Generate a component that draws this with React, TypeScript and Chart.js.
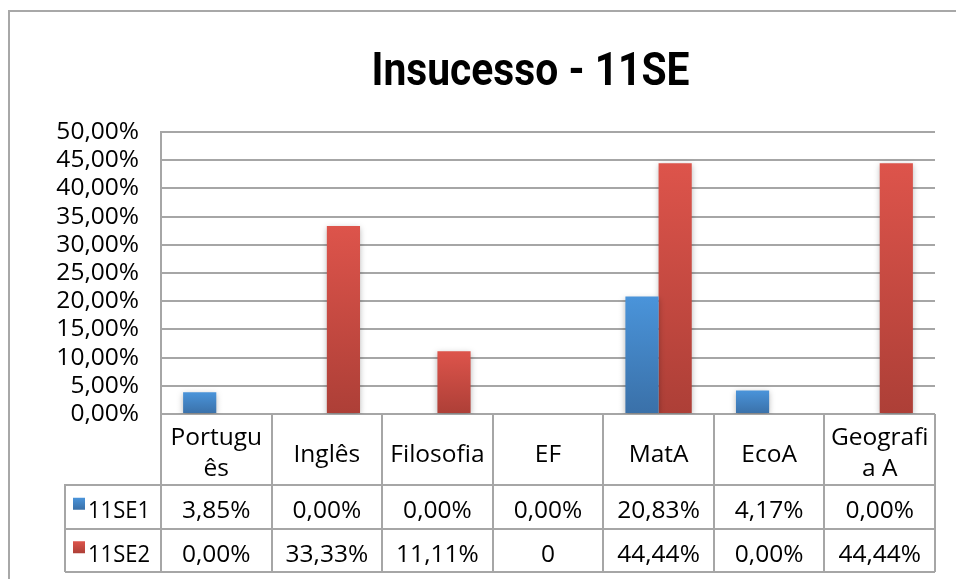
import React, { useEffect, useRef } from "react";
import { Chart, registerables } from "chart.js";

Chart.register(...registerables);

// ---- data ----
const chartTitle = "Insucesso - 11SE";
const categories: string[][] = [
  ["Portugu", "ês"],
  ["Inglês"],
  ["Filosofia"],
  ["EF"],
  ["MatA"],
  ["EcoA"],
  ["Geografi", "a A"],
];
const seriesNames = ["11SE1", "11SE2"];
const series1 = [3.85, 0, 0, 0, 20.83, 4.17, 0];
const series2 = [0, 33.33, 11.11, 0, 44.44, 0, 44.44];
const series1Table = ["3,85%", "0,00%", "0,00%", "0,00%", "20,83%", "4,17%", "0,00%"];
const series2Table = ["0,00%", "33,33%", "11,11%", "0", "44,44%", "0,00%", "44,44%"];
const yMin = 0;
const yMax = 50;
const yStep = 5;

// ---- styles ----
const FONT = "'Open Sans', 'Noto Sans', sans-serif";
const FONT_SIZE = 24.5;
const TITLE_FONT = "Roboto, 'Open Sans', sans-serif";
const GRID = "#a6a6a6";
const BLUE = ["#4a94da", "#3a70a8"];
const RED = ["#dd544b", "#ad3f37"];
const seriesColors = [BLUE, RED];

function fmtTick(v: number) {
  return v.toFixed(2).replace(".", ",") + "%";
}

function barFill(colors: string[]) {
  return (c: any) => {
    const chart = c.chart;
    const y = chart.scales?.y;
    if (!chart.chartArea || !y || typeof c.raw !== "number") return colors[0];
    const top = y.getPixelForValue(c.raw);
    const bottom = y.getPixelForValue(0);
    if (Math.abs(bottom - top) < 1) return colors[0];
    const g = chart.ctx.createLinearGradient(0, top, 0, bottom);
    g.addColorStop(0, colors[0]);
    g.addColorStop(1, colors[1]);
    return g;
  };
}

const framePlugin = {
  id: "frameAndTitle",
  beforeDraw(chart: any) {
    const ctx = chart.ctx;
    ctx.save();
    ctx.fillStyle = "#ffffff";
    ctx.fillRect(0, 0, chart.width, chart.height);
    ctx.strokeStyle = "#a8a8a8";
    ctx.lineWidth = 2;
    ctx.strokeRect(9, 11, 2000, 2000);
    // title
    ctx.font = `bold 46px ${TITLE_FONT}`;
    ctx.fillStyle = "#000000";
    ctx.textBaseline = "alphabetic";
    ctx.textAlign = "center";
    const w = ctx.measureText(chartTitle).width;
    const targetW = 318;
    ctx.translate(530.5, 85);
    ctx.scale(targetW / w, 1);
    ctx.fillText(chartTitle, 0, 0);
    ctx.restore();
  },
};

const shadowPlugin = {
  id: "barShadow",
  beforeDatasetsDraw(chart: any) {
    const ctx = chart.ctx;
    ctx.save();
    ctx.shadowColor = "rgba(0,0,0,0.28)";
    ctx.shadowBlur = 6;
    ctx.shadowOffsetX = 0;
    ctx.shadowOffsetY = 2;
  },
  afterDatasetsDraw(chart: any) {
    chart.ctx.restore();
  },
};

const tablePlugin = {
  id: "dataTable",
  afterDraw(chart: any) {
    const ctx = chart.ctx;
    const a = chart.chartArea;
    const x = chart.scales.x;
    const n = categories.length;
    const colW = (a.right - a.left) / n;
    const headerTop = a.bottom;
    const headerBottom = a.bottom + 71;
    const rowH = 43.5;
    const rowBottoms = [headerBottom + rowH, headerBottom + 2 * rowH];
    const legendLeft = a.left - 96;
    const R = (v: number) => Math.round(v);
    ctx.save();
    ctx.strokeStyle = GRID;
    ctx.lineWidth = 2;
    const line = (x1: number, y1: number, x2: number, y2: number) => {
      ctx.beginPath();
      ctx.moveTo(R(x1), R(y1));
      ctx.lineTo(R(x2), R(y2));
      ctx.stroke();
    };
    line(legendLeft, headerBottom, a.right, headerBottom);
    rowBottoms.forEach((yb) => line(legendLeft, yb, a.right, yb));
    for (let i = 0; i <= n; i++) {
      const xb = i < n ? x.getPixelForValue(i) - colW / 2 : x.getPixelForValue(n - 1) + colW / 2;
      line(xb, headerTop, xb, rowBottoms[1]);
    }
    line(legendLeft, headerBottom - 1, legendLeft, rowBottoms[1]);

    ctx.fillStyle = "#000000";
    ctx.font = `${FONT_SIZE}px ${FONT}`;
    ctx.textAlign = "center";
    ctx.textBaseline = "alphabetic";
    const headerMid = (headerTop + headerBottom) / 2;
    categories.forEach((lines, i) => {
      const cx = x.getPixelForValue(i);
      if (lines.length === 1) {
        ctx.fillText(lines[0], cx, headerMid + 12.5, colW - 8);
      } else {
        ctx.fillText(lines[0], cx, headerMid - 4.5, colW - 8);
        ctx.fillText(lines[1], cx, headerMid + 26.5, colW - 8);
      }
    });
    const tables = [series1Table, series2Table];
    tables.forEach((vals, r) => {
      const top = r === 0 ? headerBottom : rowBottoms[0];
      const mid = (top + rowBottoms[r]) / 2;
      vals.forEach((t, i) => {
        ctx.fillText(t, x.getPixelForValue(i), mid + 11.5);
      });
      // legend key
      const sq = 12;
      const sx = legendLeft + 8;
      const sy = mid - 9;
      const g = ctx.createLinearGradient(0, sy, 0, sy + sq);
      g.addColorStop(0, seriesColors[r][0]);
      g.addColorStop(1, seriesColors[r][1]);
      ctx.fillStyle = g;
      ctx.fillRect(sx, sy, sq, sq);
      ctx.fillStyle = "#000000";
      ctx.textAlign = "left";
      ctx.fillText(seriesNames[r], legendLeft + 23, mid + 11.5, 62);
      ctx.textAlign = "center";
    });
    ctx.restore();
  },
};

export default function App() {
  const ref = useRef<HTMLCanvasElement>(null);
  useEffect(() => {
    if (!ref.current) return;
    const chart = new Chart(ref.current, {
      type: "bar",
      data: {
        labels: categories.map((c) => c.join("")),
        datasets: [
          {
            label: seriesNames[0],
            data: series1,
            backgroundColor: barFill(BLUE) as any,
            borderWidth: 0,
            categoryPercentage: 0.6,
            barPercentage: 1,
          },
          {
            label: seriesNames[1],
            data: series2,
            backgroundColor: barFill(RED) as any,
            borderWidth: 0,
            categoryPercentage: 0.6,
            barPercentage: 1,
          },
        ],
      },
      options: {
        responsive: false,
        maintainAspectRatio: false,
        devicePixelRatio: 1,
        animation: false,
        layout: { padding: { left: 11, right: 21, top: 132, bottom: 165 } },
        plugins: {
          legend: { display: false },
          title: { display: false },
          tooltip: { enabled: false },
        },
        scales: {
          x: { display: false },
          y: {
            min: yMin,
            max: yMax,
            afterFit: (s: any) => {
              s.width = 150;
            },
            ticks: {
              stepSize: yStep,
              autoSkip: false,
              color: "#000000",
              padding: 22,
              font: { family: FONT, size: FONT_SIZE },
              callback: (v: any) => fmtTick(Number(v)),
            },
            grid: { color: GRID, lineWidth: 2, drawTicks: false },
            border: { display: true, color: GRID, width: 2 },
          },
        },
      },
      plugins: [framePlugin, shadowPlugin, tablePlugin],
    });
    return () => chart.destroy();
  }, []);
  return (
    <div style={{ position: "fixed", left: 0, top: 0, width: 956, height: 579, background: "#fff" }}>
      <canvas ref={ref} width={956} height={579} style={{ display: "block", width: 956, height: 579 }} />
    </div>
  );
}
